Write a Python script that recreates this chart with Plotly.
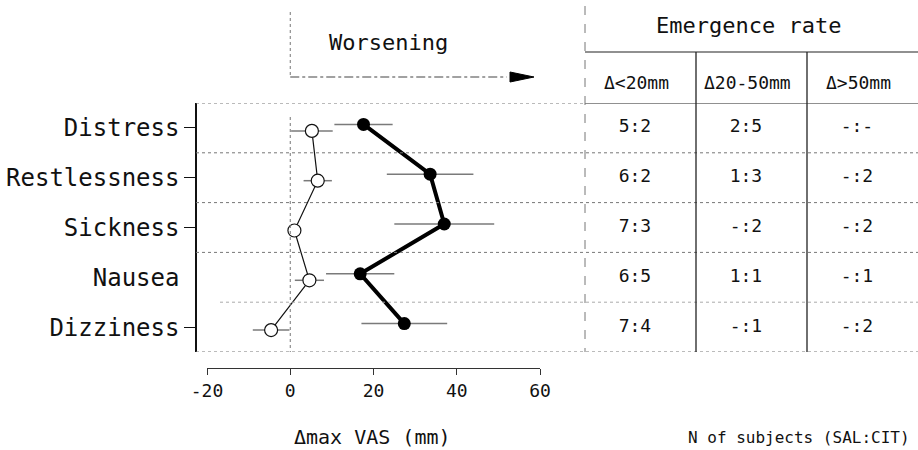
import plotly.graph_objects as go

# ---------------- data ----------------
categories = ["Distress", "Restlessness", "Sickness", "Nausea", "Dizziness"]
sal_mean = [5.2, 6.6, 1.0, 4.6, -4.6]      # open circles
sal_err = [5.0, 3.4, 1.0, 3.5, 4.4]
cit_mean = [17.6, 33.6, 37.0, 16.8, 27.4]  # filled circles
cit_err = [7.0, 10.4, 12.0, 8.2, 10.3]

x_tick_vals = [-20, 0, 20, 40, 60]
x_tick_labels = ["-20", "0", "20", "40", "60"]

table_title = "Emergence rate"
table_headers = ["Δ&lt;20mm", "Δ20-50mm", "Δ&gt;50mm"]
col_lt20 = ["5:2", "6:2", "7:3", "6:5", "7:4"]
col_20_50 = ["2:5", "1:3", "-:2", "1:1", "-:1"]
col_gt50 = ["-:-", "-:2", "-:2", "-:1", "-:2"]

x_title = "Δmax VAS (mm)"
table_footer = "N of subjects (SAL:CIT)"
arrow_label = "Worsening"

# ---------------- layout helpers ----------------
W, H = 918, 450
FONT = "DejaVu Sans Mono"


def px(x):
    return x / W


def py(y):
    return 1 - y / H


n = len(categories)
rows = list(range(n - 1, -1, -1))  # Distress at top
tick_rows = [r for r, c in zip(rows, categories) if c != "Nausea"]
sal_y = [r - 0.06 for r in rows]
cit_y = [r + 0.07 for r in rows]

fig = go.Figure()

fig.add_trace(go.Scatter(
    x=sal_mean, y=sal_y, mode="lines+markers",
    line=dict(color="#111", width=1.2),
    marker=dict(symbol="circle", size=13, color="white",
                line=dict(color="#111", width=1.2)),
    error_x=dict(type="data", array=sal_err, visible=True,
                 color="#7a7a7a", thickness=1.5, width=0),
    cliponaxis=False, showlegend=False, name="SAL"))

fig.add_trace(go.Scatter(
    x=cit_mean, y=cit_y, mode="lines+markers",
    line=dict(color="#000", width=4),
    marker=dict(symbol="circle", size=13, color="#000"),
    error_x=dict(type="data", array=cit_err, visible=True,
                 color="#7a7a7a", thickness=1.5, width=0),
    cliponaxis=False, showlegend=False, name="CIT"))

# table cells via second x axis
for ci, col in enumerate([col_lt20, col_20_50, col_gt50]):
    fig.add_trace(go.Scatter(
        x=[ci + 0.45] * n, y=rows, mode="text", text=col,
        textfont=dict(family=FONT, size=18, color="#111"),
        xaxis="x2", yaxis="y", showlegend=False, hoverinfo="skip",
        cliponaxis=False))

shapes = []
grid = dict(color="#777", width=1, dash="dot")
# dotted row separators across the whole panel
for yv in [4.5, 3.5, 2.5, 1.5, -0.5]:
    x_end = 1 if yv != 4.5 else px(585)
    shapes.append(dict(type="line", xref="paper", yref="y",
                       x0=px(196), x1=x_end, y0=yv, y1=yv, line=grid))
shapes.append(dict(type="line", xref="paper", yref="y",
                   x0=px(220), x1=1, y0=0.5, y1=0.5,
                   line=dict(color="#aaa", width=1, dash="dot")))
# table solid lines
shapes.append(dict(type="line", xref="paper", yref="y",
                   x0=px(585), x1=1, y0=4.5, y1=4.5,
                   line=dict(color="#222", width=1.2)))
shapes.append(dict(type="line", xref="paper", yref="paper",
                   x0=px(585), x1=1, y0=py(52), y1=py(52),
                   line=dict(color="#222", width=1.2)))
shapes.append(dict(type="line", xref="paper", yref="paper",
                   x0=px(585), x1=px(585), y0=py(6), y1=py(352),
                   line=dict(color="#777", width=1, dash="dash")))
for xv in [1, 2]:
    shapes.append(dict(type="line", xref="x2", yref="paper",
                       x0=xv, x1=xv, y0=py(52), y1=py(352),
                       line=dict(color="#222", width=1.3)))
# zero reference line
shapes.append(dict(type="line", xref="x", yref="paper",
                   x0=0, x1=0, y0=py(117), y1=py(352), line=grid))
# Worsening arrow
shapes.append(dict(type="line", xref="x", yref="paper",
                   x0=0, x1=0, y0=py(12), y1=py(77), line=grid))
shapes.append(dict(type="line", xref="x", yref="paper",
                   x0=0, x1=52, y0=py(77), y1=py(77),
                   line=dict(color="#444", width=1.2, dash="dashdot")))
shapes.append(dict(type="path", xref="paper", yref="paper",
                   path=f"M {px(510)},{py(72)} L {px(534)},{py(77)} L {px(510)},{py(82)} Z",
                   fillcolor="#000", line=dict(color="#000", width=1)))


def ann(text, x, y, size, xref="paper"):
    return dict(text=text, xref=xref, yref="paper", x=x, y=y,
                xanchor="center", yanchor="middle", showarrow=False,
                font=dict(family=FONT, size=size, color="#111"))


annotations = [
    ann(arrow_label, px(388), py(42), 22),
    ann(table_title, px(748), py(25), 22),
    ann(x_title, px(372), py(437), 20),
    ann(table_footer, px(799), py(437), 16),
]
for ci, h in enumerate(table_headers):
    annotations.append(ann(h, ci + 0.46, py(82), 18, xref="x2"))

fig.update_layout(
    width=W, height=H,
    margin=dict(l=0, r=0, t=0, b=0, autoexpand=False),
    paper_bgcolor="white", plot_bgcolor="rgba(0,0,0,0)",
    xaxis=dict(domain=[px(207), px(540)], range=[-20, 60],
               anchor="free", position=py(368), automargin=False,
               showline=True, linecolor="#333", linewidth=1.2,
               ticks="outside", ticklen=6, tickcolor="#333",
               tickvals=x_tick_vals, ticktext=x_tick_labels,
               tickfont=dict(family=FONT, size=18, color="#111"),
               showgrid=False, zeroline=False),
    xaxis2=dict(domain=[px(585), 1], range=[0, 3], anchor="y",
                visible=False, automargin=False),
    yaxis=dict(domain=[py(352), py(103)], range=[-0.5, 4.5],
               anchor="free", position=px(196), automargin=False,
               showline=True, linecolor="#111", linewidth=1.5,
               ticks="outside", ticklen=11, tickcolor="rgba(0,0,0,0)",
               tickvals=rows, ticktext=categories,
               tickfont=dict(family=FONT, size=24, color="#111"),
               minor=dict(tickmode="array", tickvals=tick_rows,
                          ticks="outside", ticklen=11, tickcolor="#111",
                          tickwidth=1.2, showgrid=False),
               showgrid=False, zeroline=False),
    shapes=shapes, annotations=annotations,
)

fig.write_html("out.html",
               config={"displayModeBar": False},
               post_script="document.body.style.margin='0px';"
                           "document.body.style.overflow='hidden';")
